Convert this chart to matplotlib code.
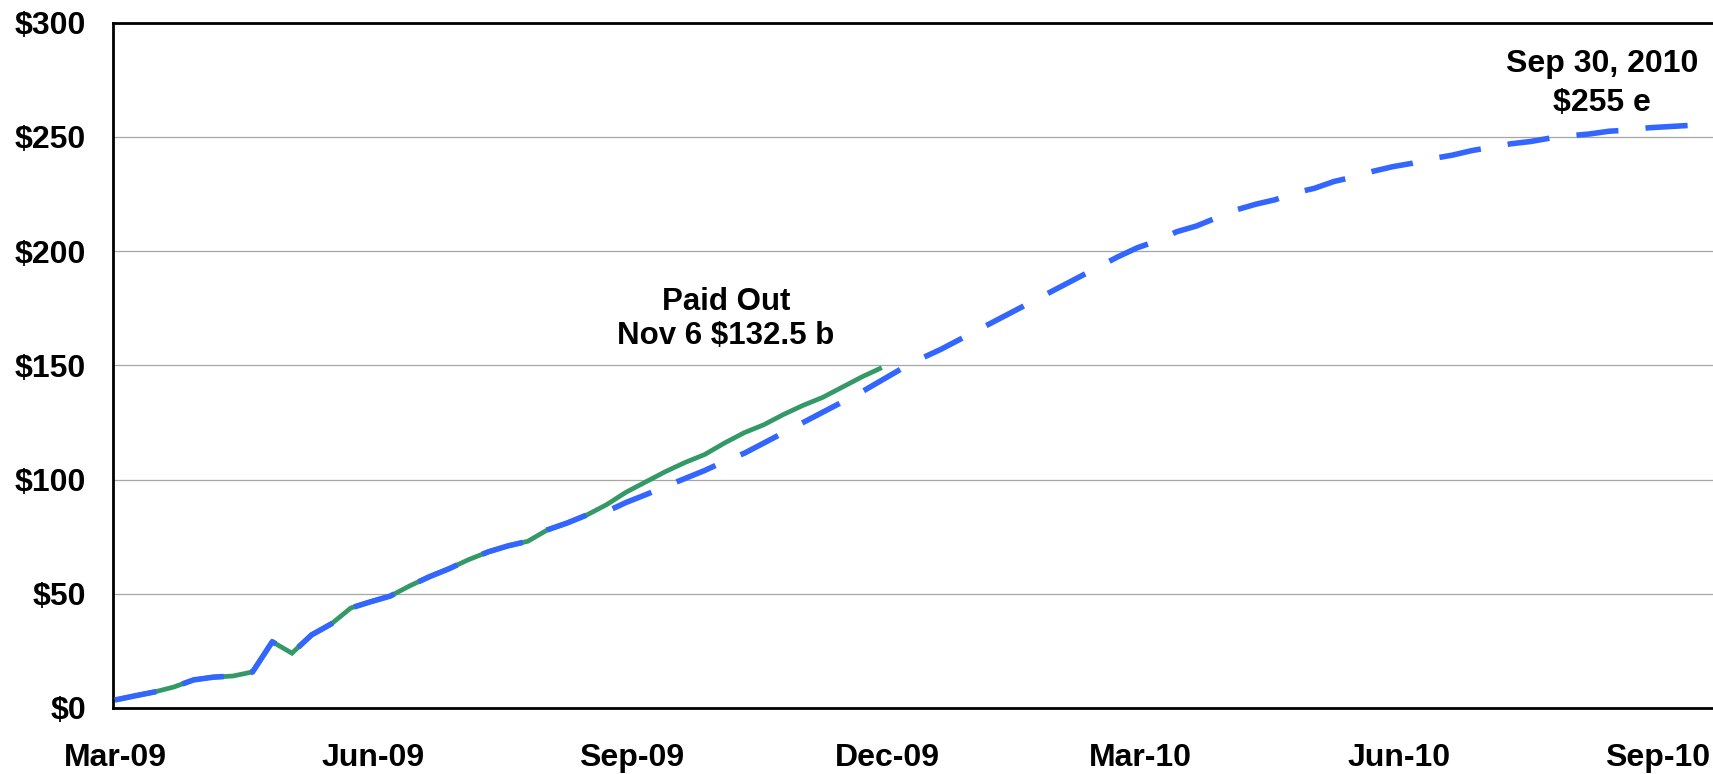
import matplotlib
matplotlib.use("Agg")
import matplotlib.pyplot as plt
import pandas as pd

plt.rcParams['font.family'] = ['Liberation Sans', 'DejaVu Sans']

# ---- data (weekly, $ billions) ----
start_date = "2009-03-01"
paid_out = [3.5, 5.3, 7.0, 9.2, 12.3, 13.5, 14.0, 15.8, 29.0, 24.0,
            32.0, 36.8, 43.8, 46.5, 49.0, 53.5, 57.5, 61.0, 65.0, 68.4,
            71.0, 73.0, 78.0, 81.0, 84.5, 89.0, 94.5, 99.0, 103.5, 107.5,
            111.0, 116.0, 120.5, 124.0, 128.5, 132.5, 136.0, 140.5, 145.0, 149.0]
projected = [3.5, 5.3, 7.0, 9.2, 12.3, 13.5, 14.0, 15.8, 29.0, 24.0,
             32.0, 36.8, 43.8, 46.5, 49.0, 53.5, 57.5, 61.0, 65.0, 68.4,
             71.0, 73.0, 78.0, 81.0, 84.5, 86.0, 90.0, 93.4, 97.0, 100.5,
             104.0, 108.0, 111.5, 116.0, 120.5, 125.0, 129.5, 134.0, 138.5, 143.5,
             148.5, 153.0, 157.0, 161.5, 166.0, 170.5, 175.0, 179.5, 184.0, 188.5,
             193.0, 197.5, 201.5, 204.5, 208.5, 211.0, 214.5, 218.0, 220.5, 222.5,
             225.5, 227.5, 230.5, 232.5, 235.0, 237.0, 238.5, 240.5, 242.0, 244.0,
             245.5, 247.0, 248.0, 249.5, 250.5, 251.3, 252.5, 253.0, 254.0, 254.5,
             255.0, 255.5]
y_ticks = [0, 50, 100, 150, 200, 250, 300]
y_tick_labels = ["$0", "$50", "$100", "$150", "$200", "$250", "$300"]
x_tick_dates = ["2009-03-01", "2009-06-01", "2009-09-01", "2009-12-01",
                "2010-03-01", "2010-06-01", "2010-09-01"]
x_tick_labels = ["Mar-09", "Jun-09", "Sep-09", "Dec-09", "Mar-10", "Jun-10", "Sep-10"]

paid_dates = pd.date_range(start_date, periods=len(paid_out), freq="7D")
proj_dates = pd.date_range(start_date, periods=len(projected), freq="7D")

fig = plt.figure(figsize=(17.13, 7.74), dpi=100)
ax = fig.add_axes([112.7 / 1713, 1 - 708 / 774, 1 - 112.7 / 1713, (708 - 22.7) / 774])

green = "#339966"
blue = "#3366FF"

ax.plot(paid_dates, paid_out, color=green, lw=3.4, solid_capstyle="butt",
        solid_joinstyle="miter", zorder=3)
ax.plot(proj_dates, projected, color=blue, lw=4.0, linestyle=(0, (7.6, 4.9)),
        dash_capstyle="butt", zorder=4)

x0 = pd.Timestamp(start_date) - pd.Timedelta(days=0.8)
x1 = pd.Timestamp(start_date) + pd.Timedelta(days=568.9)
ax.set_xlim(x0, x1)
ax.set_ylim(0, 300)

ax.set_yticks(y_ticks)
ax.set_yticklabels(y_tick_labels)
ax.set_xticks(pd.to_datetime(x_tick_dates))
ax.set_xticklabels(x_tick_labels)

for lab in ax.get_yticklabels() + ax.get_xticklabels():
    lab.set_fontweight("bold")
    lab.set_fontsize(23)
ax.tick_params(axis="y", length=0, pad=19)
ax.tick_params(axis="x", length=0, pad=25)

ax.grid(axis="y", color="#a6a6a6", lw=0.9, zorder=1)
ax.set_axisbelow(True)

for side in ["left", "bottom", "top"]:
    ax.spines[side].set_linewidth(2.0)
    ax.spines[side].set_color("black")
ax.spines["right"].set_visible(False)

paid_x = pd.Timestamp(start_date) + pd.Timedelta(days=217.5)
ax.text(paid_x, 174.3, "Paid Out", ha="center", va="baseline",
        fontsize=22.5, fontweight="bold", zorder=5)
ax.text(paid_x, 159.4, "Nov 6 $132.5 b", ha="center", va="baseline",
        fontsize=22.5, fontweight="bold", zorder=5)

end_x = pd.Timestamp(start_date) + pd.Timedelta(days=529.5)
ax.text(end_x, 278.6, "Sep 30, 2010", ha="center", va="baseline",
        fontsize=23, fontweight="bold", zorder=5)
ax.text(end_x, 261.5, "$255 e", ha="center", va="baseline",
        fontsize=23, fontweight="bold", zorder=5)

fig.savefig("out.png", dpi=100)
